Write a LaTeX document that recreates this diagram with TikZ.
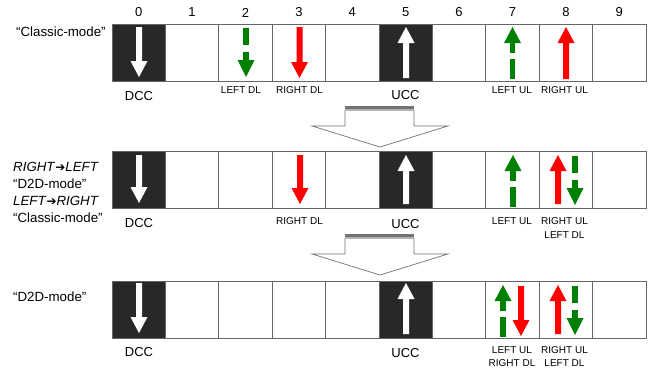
\documentclass[tikz,border=0pt]{standalone}
\usepackage{fontspec}
\setmainfont{Liberation Sans}
\newfontfamily\symf{DejaVu Sans}
\definecolor{dgreen}{RGB}{0,128,0}
\definecolor{dred}{RGB}{255,0,0}
\definecolor{cellfill}{RGB}{40,40,40}
\newcommand\arrdn[4]{% color, x, ytop, ytip
  \fill[#1] ({#2-3},#3) -- ({#2+3},#3) -- ({#2+3},{#4-16}) -- ({#2+8.5},{#4-16}) -- (#2,#4) -- ({#2-8.5},{#4-16}) -- ({#2-3},{#4-16}) -- cycle;}
\newcommand\arrup[4]{% color, x, ybottom, ytip
  \fill[#1] ({#2-3},#3) -- ({#2+3},#3) -- ({#2+3},{#4+16}) -- ({#2+8.5},{#4+16}) -- (#2,#4) -- ({#2-8.5},{#4+16}) -- ({#2-3},{#4+16}) -- cycle;}
\newcommand\arrdnd[3]{% color, x, ytip
  \fill[#1] ({#2-2.6},{#3-49}) rectangle ({#2+2.6},{#3-32});
  \fill[#1] ({#2-2.6},{#3-25}) rectangle ({#2+2.6},{#3-16});
  \fill[#1] ({#2-8.5},{#3-17}) -- ({#2+8.5},{#3-17}) -- (#2,#3) -- cycle;}
\newcommand\arrupd[3]{% color, x, ytip
  \fill[#1] ({#2-2.6},{#3+52}) rectangle ({#2+2.6},{#3+32});
  \fill[#1] ({#2-2.6},{#3+26}) rectangle ({#2+2.6},{#3+15});
  \fill[#1] ({#2-8.5},{#3+16}) -- ({#2+8.5},{#3+16}) -- (#2,#3) -- cycle;}
\newcommand\bigarr[1]{% ytop
  \fill[white] (345,#1) -- (414,#1) -- (414,{#1+19}) -- (448,{#1+19}) -- (380,{#1+40}) -- (312,{#1+19}) -- (345,{#1+19}) -- cycle;
  \draw[black!55, line width=0.7pt] (345,{#1+3}) -- (345,{#1+19}) -- (312,{#1+19}) -- (380,{#1+40}) -- (448,{#1+19}) -- (414,{#1+19}) -- (414,{#1+3});
  \fill[black!55] (345,{#1-1}) rectangle (414,{#1+2.2});
  \fill[black!30] (345,{#1+2.2}) rectangle (414,{#1+4});}
\begin{document}
\begin{tikzpicture}[x=1pt,y=-1pt,
  cell/.style={draw=black!60, line width=0.9pt, minimum width=53.4pt, minimum height=57pt, inner sep=0pt, outer sep=0pt},
  darkcell/.style={cell, fill=cellfill},
  plaincell/.style={cell, fill=white},
  num/.style={font=\fontsize{13}{13}\selectfont},
  lbl/.style={font=\fontsize{10}{13.5}\selectfont, align=center, inner sep=0pt},
  cc/.style={font=\fontsize{13}{13}\selectfont, inner sep=0pt},
  side/.style={font=\fontsize{13.3}{17}\selectfont, align=left, anchor=west, inner sep=0pt}
]
\useasboundingbox[fill=white] (0,0) rectangle (649,372);
% numbers
\foreach \i in {0,...,9}{
  \node[num] (n\i) at ({112+53.4*(\i+0.5)},12.5) {\i};
}
% cells
\foreach \r/\y in {1/52.5,2/179.5,3/309.5}{
  \foreach \i/\s in {0/darkcell,1/plaincell,2/plaincell,3/plaincell,4/plaincell,5/darkcell,6/plaincell,7/plaincell,8/plaincell,9/plaincell}{
    \node[\s] (c\r\i) at ({112+53.4*(\i+0.5)},\y) {};
  }
}
% row 1 arrows
\arrdn{white}{139}{27}{77}
\arrdnd{dgreen}{246}{77}
\arrdn{dred}{299.5}{27}{78}
\arrup{white}{406}{78}{27}
\arrupd{dgreen}{512.5}{27}
\arrup{dred}{566}{79}{27}
% row 2 arrows
\arrdn{white}{139}{155}{203}
\arrdn{dred}{300}{155}{204}
\arrup{white}{406}{204}{155}
\arrupd{dgreen}{513}{155}
\arrup{dred}{558}{204}{155}
\arrdnd{dgreen}{575}{205}
% row 3 arrows
\arrdn{white}{139}{283}{333}
\arrup{white}{406}{334}{283}
\arrupd{dgreen}{503}{285}
\arrdn{dred}{521}{286}{336}
\arrup{dred}{558}{334}{285}
\arrdnd{dgreen}{575}{335}
% big transition arrows
\bigarr{107}
\bigarr{235}
% side labels
\node[side] (s1) at (16,32) {“Classic-mode”};
\node[side] (s2) at (13,192) {\textit{RIGHT}{\symf\fontsize{12}{12}\selectfont ➔}\textit{LEFT}\\“D2D-mode”\\\textit{LEFT}{\symf\fontsize{12}{12}\selectfont ➔}\textit{RIGHT}\\“Classic-mode”};
\node[side] (s3) at (13,297) {“D2D-mode”};
% row 1 labels
\node[cc] (l10) at (139,96) {DCC};
\node[lbl] (l12) at (241,90) {LEFT DL};
\node[lbl] (l13) at (299.5,90) {RIGHT DL};
\node[cc] (l15) at (405.5,95) {UCC};
\node[lbl] (l17) at (512,90) {LEFT UL};
\node[lbl] (l18) at (564.5,90) {RIGHT UL};
% row 2 labels
\node[cc] (l20) at (139,223) {DCC};
\node[lbl] (l23) at (299.5,221) {RIGHT DL};
\node[cc] (l25) at (405.5,224) {UCC};
\node[lbl] (l27) at (512,221) {LEFT UL};
\node[lbl] (l28) at (564.5,228) {RIGHT UL\\LEFT DL};
% row 3 labels
\node[cc] (l30) at (139,352) {DCC};
\node[cc] (l35) at (405.5,353) {UCC};
\node[lbl] (l37) at (512,356.5) {LEFT UL\\RIGHT DL};
\node[lbl] (l38) at (564.5,356.5) {RIGHT UL\\LEFT DL};
\end{tikzpicture}
\end{document}
